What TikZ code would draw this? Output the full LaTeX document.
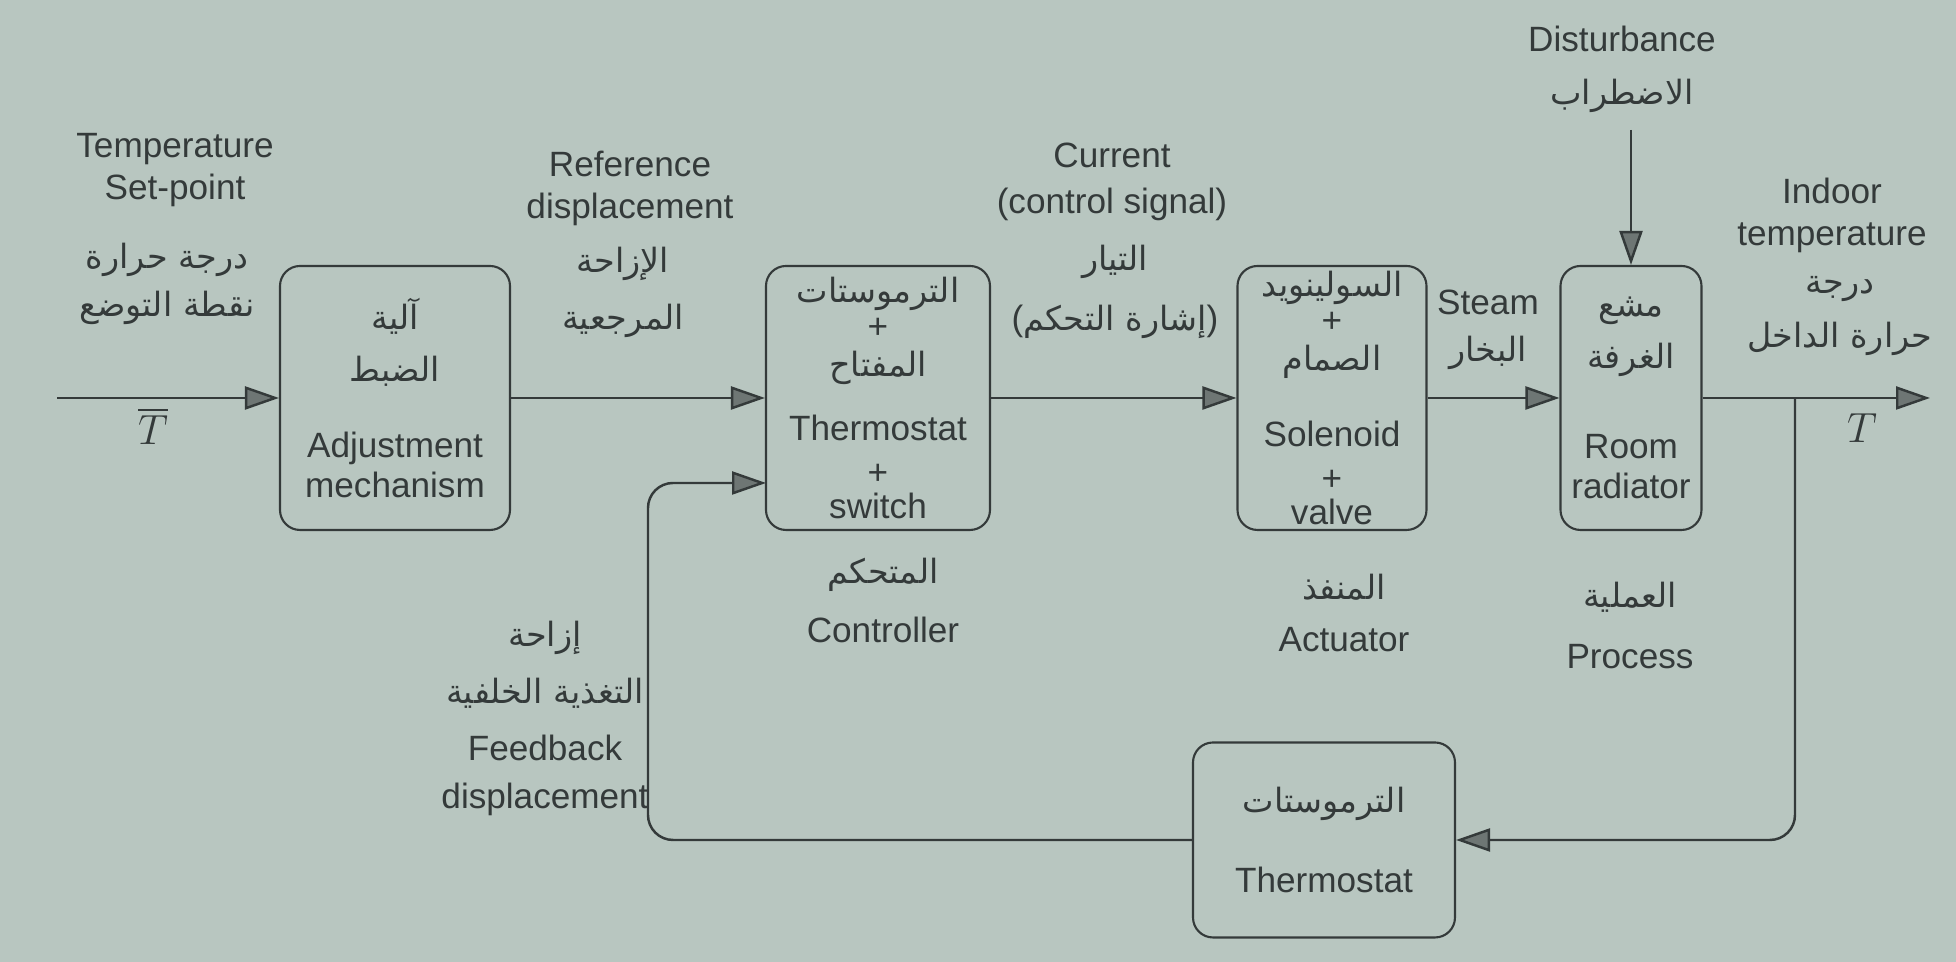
\documentclass[tikz,border=0pt]{standalone}
\usepackage{fontspec}
\usepackage{xcolor}
\usepackage{amsmath}
\usepackage{tikz}
\usetikzlibrary{arrows.meta, positioning}
\setmainfont{Liberation Sans}
\newfontfamily\arabicfont[Script=Arabic]{DejaVu Sans}
\TeXXeTstate=1
\definecolor{paper}{RGB}{184,198,192}
\definecolor{ink}{RGB}{52,58,58}
\definecolor{headgray}{RGB}{110,118,116}

\begin{document}
\begin{tikzpicture}[
  block/.style={draw=ink, line width=0.6pt, rounded corners=2mm, align=center, inner sep=0pt, text=ink, font=\fontsize{10}{11.4}\selectfont},
  lbl/.style={align=center, inner sep=0pt, text=ink, font=\fontsize{10}{11.4}\selectfont},
  ar/.style={align=center, inner sep=0pt, text=ink, font=\arabicfont\fontsize{9.5}{12}\selectfont},
  flow/.style={draw=ink, line width=0.7pt, -{Triangle[length=3.4mm, width=2.3mm, fill=headgray]}}]
\fill[paper] (0, 0) rectangle (19.56, 9.62);
\useasboundingbox (0, 0) rectangle (19.56, 9.62);
% blocks of the loop
\node[block, minimum width=2.30cm, minimum height=2.64cm] (adj) at (3.95, 5.64) {{\arabicfont\fontsize{9.5}{12}\selectfont\beginR آلية\endR}\\[1.2mm]{\arabicfont\fontsize{9.5}{12}\selectfont\beginR الضبط\endR}\\[3.5mm]Adjustment\\mechanism};
\node[block, minimum width=2.24cm, minimum height=2.64cm] (ctrl) at (8.78, 5.64) {{\arabicfont\fontsize{9.5}{12}\selectfont\beginR الترموستات\endR}\\[-0.4mm]+\\[-0.2mm]{\arabicfont\fontsize{9.5}{12}\selectfont\beginR المفتاح\endR}\\[2.4mm]Thermostat\\[0.4mm]+\\[-0.6mm]switch};
\node[block, minimum width=1.89cm, minimum height=2.64cm] (act) at (13.32, 5.64) {{\arabicfont\fontsize{9.5}{12}\selectfont\beginR السولينويد\endR}\\[-0.4mm]+\\[-0.2mm]{\arabicfont\fontsize{9.5}{12}\selectfont\beginR الصمام\endR}\\[3.6mm]Solenoid\\[0.4mm]+\\[-0.6mm]valve};
\node[block, minimum width=1.41cm, minimum height=2.64cm] (rad) at (16.31, 5.64) {{\arabicfont\fontsize{9.5}{12}\selectfont\beginR مشع\endR}\\[1.2mm]{\arabicfont\fontsize{9.5}{12}\selectfont\beginR الغرفة\endR}\\[5mm]Room\\radiator};
\node[block, minimum width=2.62cm, minimum height=1.95cm] (therm) at (13.24, 1.22) {{\arabicfont\fontsize{9.5}{12}\selectfont\beginR الترموستات\endR}\\[4mm]Thermostat};
% free ends
\coordinate (setin) at (0.57, 5.64);
\coordinate (tout) at (19.30, 5.64);
\coordinate (tap) at (17.95, 5.64);
\coordinate (dist) at (16.31, 8.32);
\coordinate (fbleft) at (6.48, 4.79);
\coordinate (fbin) at (7.66, 4.79);
% signal labels
\node[lbl] (spen) at (1.75, 7.92) {Temperature\\[0.2mm]Set-point};
\node[ar] (spar) at (1.67, 6.78) {\beginR درجة حرارة\endR\\[0.6mm]\beginR نقطة التوضع\endR};
\node[text=ink, inner sep=0pt] (tbar) at (1.53, 5.36) {\large$\overline{T}$};
\node[lbl] (refen) at (6.30, 7.74) {Reference\\[0.2mm]displacement};
\node[ar] (refar) at (6.23, 6.70) {\beginR الإزاحة\endR\\[1.5mm]\beginR المرجعية\endR};
\node[lbl] (curen) at (11.12, 7.80) {Current\\[0.6mm](control signal)};
\node[ar] (curar) at (11.15, 6.70) {\beginR التيار\endR\\[1.8mm]{\normalfont\fontsize{10}{12}\selectfont(}\beginR إشارة التحكم\endR{\normalfont\fontsize{10}{12}\selectfont)}};
\node[lbl] (steamen) at (14.88, 6.60) {Steam};
\node[ar] (steamar) at (14.88, 6.09) {\beginR البخار\endR};
\node[lbl] (disten) at (16.22, 9.23) {Disturbance};
\node[ar] (distar) at (16.22, 8.66) {\beginR الاضطراب\endR};
\node[lbl] (inen) at (18.32, 7.47) {Indoor\\[0.2mm]temperature};
\node[ar] (inar) at (18.40, 6.46) {\beginR درجة\endR\\[1.2mm]\beginR حرارة الداخل\endR};
\node[text=ink, inner sep=0pt] (tlbl) at (18.62, 5.34) {\large$T$};
% block captions
\node[ar] (ctrlar) at (8.83, 3.87) {\beginR المتحكم\endR};
\node[lbl] (ctrlen) at (8.83, 3.32) {Controller};
\node[ar] (actar) at (13.44, 3.75) {\beginR المنفذ\endR};
\node[lbl] (acten) at (13.44, 3.22) {Actuator};
\node[ar] (procar) at (16.30, 3.65) {\beginR العملية\endR};
\node[lbl] (procen) at (16.30, 3.05) {Process};
\node[ar] (fbar) at (5.45, 2.97) {\beginR إزاحة\endR\\[1.5mm]\beginR التغذية الخلفية\endR};
\node[lbl] (fben) at (5.45, 1.87) {Feedback\\[0.8mm]displacement};
% connectors
\draw[flow] (setin) -- (adj);
\draw[flow] (adj) -- (ctrl);
\draw[flow] (ctrl) -- (act);
\draw[flow] (act) -- (rad);
\draw[flow] (rad) -- (tout);
\draw[flow] (dist) -- (rad);
\draw[flow, rounded corners=2.5mm] (tap) |- (therm.east);
\draw[flow, rounded corners=2.5mm] (therm.west) -| (fbleft) -- (fbin);
\end{tikzpicture}
\end{document}
